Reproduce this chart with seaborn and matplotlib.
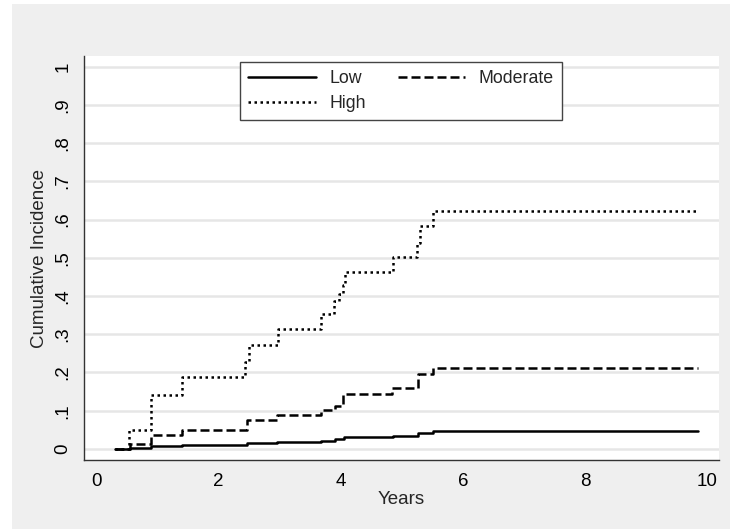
import numpy as np
import pandas as pd
import matplotlib
matplotlib.use("Agg")
import matplotlib.pyplot as plt
import seaborn as sns
from matplotlib.lines import Line2D
from matplotlib.patches import Rectangle

# cumulative incidence step curves (years, value after the jump)
low_years = [0.30, 0.55, 0.90, 1.40, 2.47, 2.96, 3.68, 3.90, 4.05, 4.85, 5.27, 5.51, 9.85]
low_ci = [0.000, 0.003, 0.008, 0.011, 0.016, 0.019, 0.022, 0.025, 0.031, 0.034, 0.041, 0.046, 0.046]

mod_years = [0.30, 0.55, 0.90, 1.40, 2.47, 2.96, 3.68, 3.90, 4.03, 4.84, 5.27, 5.51, 9.85]
mod_ci = [0.000, 0.013, 0.036, 0.050, 0.076, 0.089, 0.102, 0.112, 0.143, 0.159, 0.195, 0.213, 0.213]

high_years = [0.30, 0.53, 0.89, 1.41, 2.44, 2.50, 2.97, 3.67, 3.89, 3.98, 4.03, 4.07, 4.85, 5.25, 5.29, 5.51, 9.85]
high_ci = [0.000, 0.050, 0.141, 0.187, 0.227, 0.272, 0.313, 0.353, 0.388, 0.405, 0.430, 0.464, 0.501, 0.540, 0.583, 0.623, 0.623]

groups = ["Low", "Moderate", "High"]
y_ticks = [0, 0.1, 0.2, 0.3, 0.4, 0.5, 0.6, 0.7, 0.8, 0.9, 1.0]
y_ticklabels = ["0", ".1", ".2", ".3", ".4", ".5", ".6", ".7", ".8", ".9", "1"]
x_ticks = [0, 2, 4, 6, 8, 10]

df = pd.concat([
    pd.DataFrame({"years": low_years, "ci": low_ci, "group": "Low"}),
    pd.DataFrame({"years": mod_years, "ci": mod_ci, "group": "Moderate"}),
    pd.DataFrame({"years": high_years, "ci": high_ci, "group": "High"}),
])

sns.set_style("white")
plt.rcParams["font.family"] = ["Liberation Sans", "DejaVu Sans"]

grid_col = "#e6e6e6"
axis_col = "#333333"
lw = 1.8
dash_map = {"Low": "", "Moderate": (3.6, 1.6), "High": (1.0, 1.4)}

fig = plt.figure(figsize=(7.30, 5.29), dpi=100)
fig.patch.set_facecolor("white")
fig.patches.append(Rectangle((12 / 730, 0), 1, 1 - 4 / 529, transform=fig.transFigure,
                             facecolor="#efefef", edgecolor="none", zorder=-10))

ax = fig.add_axes([84 / 730, 69 / 529, 635 / 730, 404 / 529])
ax.set_facecolor("white")

for y in y_ticks:
    ax.axhline(y, color=grid_col, lw=1.8, zorder=0)

sns.lineplot(data=df, x="years", y="ci", style="group", style_order=groups,
             dashes=dash_map, color="black", lw=lw, drawstyle="steps-post",
             estimator=None, sort=False, legend=False, ax=ax)

ax.set_xlim(-0.2, 10.19)
ax.set_ylim(-0.029, 1.028)
ax.set_xticks(x_ticks)
ax.set_yticks(y_ticks)
ax.set_yticklabels(y_ticklabels, rotation=90, va="center")
ax.tick_params(axis="both", direction="out", length=5, width=1, color=axis_col,
               labelsize=13.5, labelcolor="black", pad=4)

for s in ["top", "right"]:
    ax.spines[s].set_visible(False)
for s in ["left", "bottom"]:
    ax.spines[s].set_color(axis_col)
    ax.spines[s].set_linewidth(1)

ax.set_xlabel("Years", fontsize=13.5, labelpad=1)
ax.set_ylabel("Cumulative Incidence", fontsize=13.5, labelpad=5)

handles = [
    Line2D([], [], color="black", lw=lw, linestyle="-"),
    Line2D([], [], color="black", lw=lw, dashes=dash_map["High"]),
    Line2D([], [], color="black", lw=lw, dashes=dash_map["Moderate"]),
]
labels = ["Low", "High", "Moderate"]
leg = ax.legend(handles, labels, ncol=2, loc="upper center", bbox_to_anchor=(0.499, 0.985),
                fontsize=12.8, frameon=True, fancybox=False, shadow=False,
                handlelength=3.8, handletextpad=0.75, columnspacing=1.8,
                labelspacing=0.45, borderpad=0.45, borderaxespad=0)
leg.get_frame().set_edgecolor("#444444")
leg.get_frame().set_linewidth(1)
leg.get_frame().set_facecolor("white")
leg.get_frame().set_alpha(1)

fig.savefig("out.png", dpi=100, facecolor=fig.get_facecolor())
